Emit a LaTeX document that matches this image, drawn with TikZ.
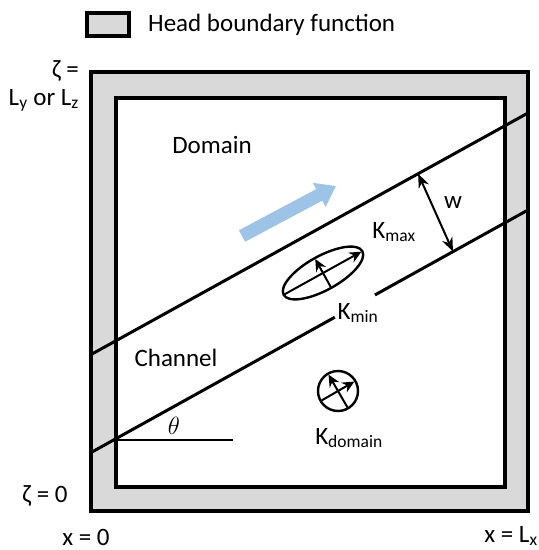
\documentclass[tikz,border=0pt]{standalone}
\usepackage{fontspec}
\setmainfont{Carlito}
\usetikzlibrary{arrows.meta, positioning, calc}
\definecolor{bordergray}{RGB}{217, 217, 217}
\definecolor{flowblue}{RGB}{157, 195, 230}
\tikzset{
  >=Stealth,
  boundbox/.style={draw=black, line width=3.2pt, fill=bordergray},
  chanline/.style={line width=3pt, black},
  dimarrow/.style={{Stealth[length=14pt, width=11pt]}-{Stealth[length=14pt, width=11pt]}, line width=2pt},
  tensorarrow/.style={-{Stealth[length=12pt, width=11pt]}, line width=2pt},
  flowarrow_blue/.style={-{Triangle[length=19pt, width=26pt]}, line width=13pt, flowblue},
  lbl/.style={font=\fontsize{25}{28}\selectfont, inner sep=0pt}
}

\begin{document}
\begin{tikzpicture}[x=1pt, y=1pt]
    \useasboundingbox (0,0) rectangle (539,550);
    % legend
    \draw[boundbox] (87,514) rectangle (129,537);
    \node[lbl, anchor=west] (legend) at (148,525) {Head boundary function};
    % boundary and domain
    \draw[boundbox] (91,39) rectangle (528,478);
    \draw[line width=3.2pt, fill=white] (116,63) rectangle (505,452);
    % channel
    \coordinate (upL) at (92,196);
    \coordinate (upR) at (528,437);
    \coordinate (loL) at (92,98);
    \coordinate (loR) at (528,340);
    \coordinate (loA) at ($(loL)!0.557!(loR)$);
    \coordinate (loB) at ($(loL)!0.649!(loR)$);
    \draw[chanline] (upL) -- (upR);
    \draw[chanline] (loL) -- (loA);
    \draw[chanline] (loB) -- (loR);
    % width
    \coordinate (wTop) at ($(upL)!0.748!(upR)$);
    \coordinate (wBot) at ($(loL)!0.828!(loR)$);
    \draw[dimarrow] (wTop) -- (wBot);
    \node[lbl] (w) at (453,347) {w};
    % angle
    \coordinate (thetaL) at (117,110);
    \coordinate (thetaR) at (233,110);
    \draw[line width=2.4pt] (thetaL) -- (thetaR);
    \node[lbl] (theta) at (174,124) {$\theta$};
    % flow direction
    \coordinate (flowS) at (242,314);
    \coordinate (flowE) at (336,364);
    \draw[flowarrow_blue] (flowS) -- (flowE);
    % anisotropic K in channel
    \begin{scope}[shift={(323,277)}, rotate=29]
        \draw[line width=2.4pt] (0,0) ellipse [x radius=45, y radius=17];
        \coordinate (majS) at (-44,0);
        \coordinate (majE) at (44,0);
        \coordinate (minS) at (0,-16);
        \coordinate (minE) at (0,16);
        \draw[tensorarrow] (majS) -- (majE);
        \draw[tensorarrow] (minS) -- (minE);
    \end{scope}
    % isotropic K in domain
    \begin{scope}[shift={(338,159)}]
        \draw[line width=2.4pt] (0,0) circle [radius=20];
        \coordinate (isoAS) at (210:19);
        \coordinate (isoAE) at (30:19);
        \coordinate (isoBS) at (300:19);
        \coordinate (isoBE) at (120:19);
        \draw[tensorarrow] (isoAS) -- (isoAE);
        \draw[tensorarrow] (isoBS) -- (isoBE);
    \end{scope}
    % labels
    \node[lbl] (domain) at (212,405) {Domain};
    \node[lbl] (channel) at (176,192) {Channel};
    \node[lbl] (kmax) at (394,318) {K\textsubscript{max}};
    \node[lbl] (kmin) at (358,237) {K\textsubscript{min}};
    \node[lbl] (kdom) at (349,112) {K\textsubscript{domain}};
    \node[lbl, align=right, anchor=east] (ztop) at (79,464) {ζ =\\L\textsubscript{y} or L\textsubscript{z}};
    \node[lbl] (zbot) at (45,54) {ζ = 0};
    \node[lbl, anchor=base] (xzero) at (86,5) {x = 0};
    \node[lbl, anchor=base] (xlen) at (511,8) {x = L\textsubscript{x}};
\end{tikzpicture}
\end{document}
